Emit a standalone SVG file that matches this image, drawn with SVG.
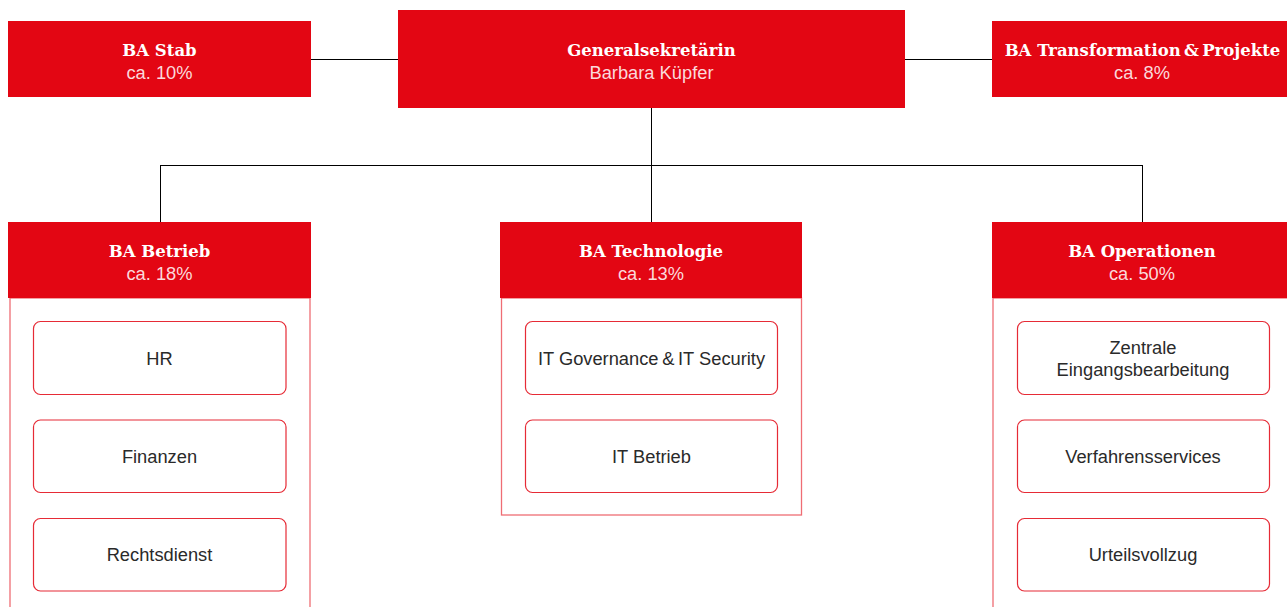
<svg xmlns="http://www.w3.org/2000/svg" width="1287" height="607" viewBox="0 0 1287 607">
<style>
.hdr{fill:#e30613}
.outer{fill:none;stroke:#ef6d74;stroke-width:1.3}
.inner{fill:#fff;stroke:#e62b36;stroke-width:1.2}
.title{font-family:"DejaVu Serif",serif;font-weight:bold;font-size:16.5px;fill:#fff;text-anchor:middle}
.sub{font-family:"Liberation Sans",Arial,sans-serif;font-size:18.3px;fill:#fbd9db;text-anchor:middle}
.lbl{font-family:"Liberation Sans",Arial,sans-serif;font-size:18.3px;fill:#2a2a2a;text-anchor:middle}
.conn{stroke:#000;stroke-width:1;fill:none}
</style>
<rect width="1287" height="607" fill="#fff"/>
<g id="connectors">
<line class="conn" x1="311" y1="59.5" x2="398" y2="59.5"/>
<line class="conn" x1="905" y1="59.5" x2="992" y2="59.5"/>
<line class="conn" x1="651.5" y1="108" x2="651.5" y2="222"/>
<line class="conn" x1="160.5" y1="165.5" x2="1142.5" y2="165.5"/>
<line class="conn" x1="160.5" y1="165" x2="160.5" y2="222"/>
<line class="conn" x1="1142.5" y1="165" x2="1142.5" y2="222"/>
</g>
<g id="ba-stab">
<rect class="hdr" x="8" y="21" width="303" height="76"/>
<text class="title" x="159.5" y="55.5">BA Stab</text>
<text class="sub" x="159.5" y="78.5">ca. 10%</text>
</g>
<g id="generalsekretaerin">
<rect class="hdr" x="398" y="10" width="507" height="98"/>
<text class="title" x="651.5" y="55.5">Generalsekretärin</text>
<text class="sub" x="651.5" y="78.5">Barbara Küpfer</text>
</g>
<g id="ba-transformation">
<rect class="hdr" x="992" y="21" width="295" height="76"/>
<text class="title" x="1142.5" y="55.5">BA Transformation&#8201;&amp;&#8201;Projekte</text>
<text class="sub" x="1142" y="78.5">ca. 8%</text>
</g>
<g id="ba-betrieb">
<rect class="outer" x="10" y="298" width="300" height="320"/>
<rect class="hdr" x="8" y="222" width="303" height="76"/>
<text class="title" x="159.5" y="256.5">BA Betrieb</text>
<text class="sub" x="159.5" y="279.5">ca. 18%</text>
<g id="hr"><rect class="inner" x="33.5" y="321.5" width="252.5" height="73" rx="7"/><text class="lbl" x="159.5" y="365">HR</text></g>
<g id="finanzen"><rect class="inner" x="33.5" y="420" width="252.5" height="72.5" rx="7"/><text class="lbl" x="159.5" y="463">Finanzen</text></g>
<g id="rechtsdienst"><rect class="inner" x="33.5" y="518.5" width="252.5" height="72.5" rx="7"/><text class="lbl" x="159.5" y="561">Rechtsdienst</text></g>
</g>
<g id="ba-technologie">
<rect class="outer" x="501.5" y="298" width="300" height="217"/>
<rect class="hdr" x="500" y="222" width="302" height="76"/>
<text class="title" x="651" y="256.5">BA Technologie</text>
<text class="sub" x="651" y="279.5">ca. 13%</text>
<g id="it-governance"><rect class="inner" x="525.5" y="321.5" width="252" height="73" rx="7"/><text class="lbl" x="651.5" y="365">IT Governance&#8201;&amp;&#8201;IT Security</text></g>
<g id="it-betrieb"><rect class="inner" x="525.5" y="420" width="252" height="72.5" rx="7"/><text class="lbl" x="651.5" y="463">IT Betrieb</text></g>
</g>
<g id="ba-operationen">
<rect class="outer" x="993" y="298" width="310" height="320"/>
<rect class="hdr" x="992" y="222" width="295" height="76"/>
<text class="title" x="1142" y="256.5">BA Operationen</text>
<text class="sub" x="1142" y="279.5">ca. 50%</text>
<g id="zentrale"><rect class="inner" x="1017.5" y="321.5" width="252" height="73" rx="7"/><text class="lbl" x="1143" y="354">Zentrale</text><text class="lbl" x="1143" y="376">Eingangsbearbeitung</text></g>
<g id="verfahrensservices"><rect class="inner" x="1017.5" y="420" width="252" height="72.5" rx="7"/><text class="lbl" x="1143" y="463">Verfahrensservices</text></g>
<g id="urteilsvollzug"><rect class="inner" x="1017.5" y="518.5" width="252" height="72.5" rx="7"/><text class="lbl" x="1143" y="561">Urteilsvollzug</text></g>
</g>
</svg>
